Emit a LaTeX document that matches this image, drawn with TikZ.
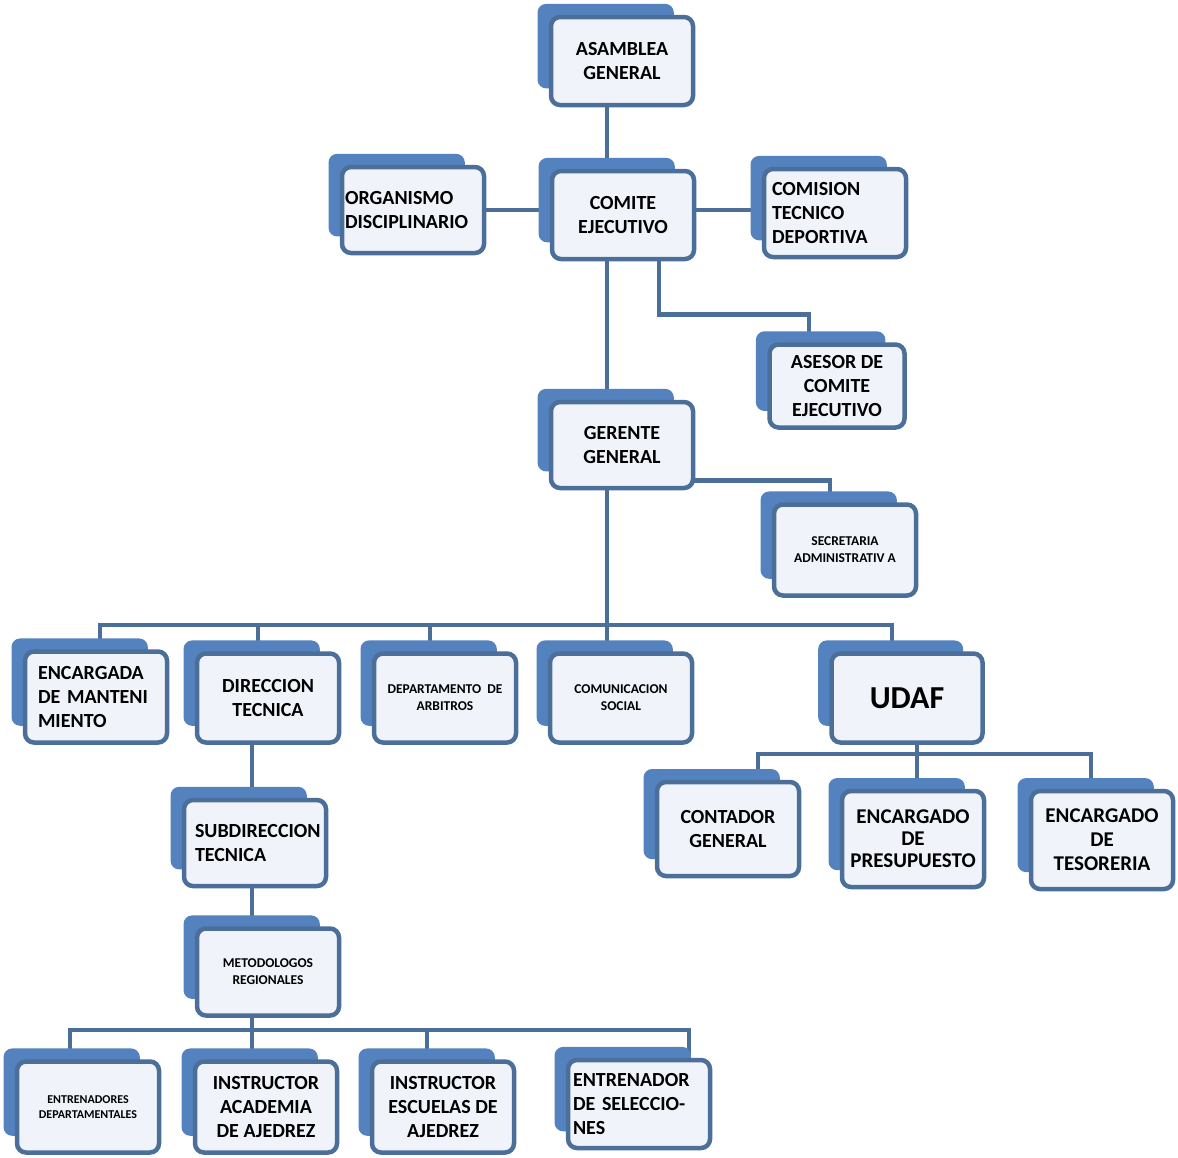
\documentclass[tikz,border=0pt]{standalone}
\usepackage{fontspec}
\setmainfont{Carlito}
\usetikzlibrary{shadows,backgrounds}

\definecolor{backblue}{RGB}{84,130,190}
\definecolor{edgeblue}{RGB}{76,111,154}
\definecolor{paleblue}{RGB}{240,244,250}

\tikzset{
  orgbox/.style={draw=edgeblue, line width=4.5pt, rounded corners=9pt, fill=paleblue,
    minimum width=142, minimum height=88, align=center, inner sep=2pt,
    font=\bfseries\fontsize{20}{24}\selectfont,
    copy shadow={shadow xshift=-17pt, shadow yshift=15.5pt, shadow scale=0.96, fill=backblue, draw=none}},
  smalltext/.style={font=\bfseries\fontsize{13.5}{17}\selectfont},
  tinytext/.style={font=\bfseries\fontsize{12}{15}\selectfont},
  leftbox/.style={align=left, text width=#1, inner xsep=0pt},
  link/.style={draw=edgeblue, line width=4.5pt},
}

\begin{document}
\begin{tikzpicture}[x=1pt,y=-1pt]
\useasboundingbox (0,0) rectangle (1178,1157);

% top levels
\node[orgbox] (asamblea) at (622,61) {ASAMBLEA\\GENERAL};
\node[orgbox, leftbox=136, minimum height=86] (organismo) at (413,210) {ORGANISMO\\DISCIPLINARIO};
\node[orgbox] (comite) at (623,215) {COMITE\\EJECUTIVO};
\node[orgbox, leftbox=126] (comision) at (835,213) {COMISION\\TECNICO\\DEPORTIVA};
\node[orgbox, minimum width=135, minimum height=83] (asesor) at (837,386) {ASESOR DE\\COMITE\\EJECUTIVO};
\node[orgbox, minimum height=86] (gerente) at (622,445) {GERENTE\\GENERAL};
\node[orgbox, smalltext, minimum height=91] (secretaria) at (845,550) {SECRETARIA\\ADMINISTRATIV A};

% departments
\node[orgbox, leftbox=116, minimum height=91] (encargada) at (96,697) {ENCARGADA\\DE MANTENI\\MIENTO};
\node[orgbox, minimum height=89] (direccion) at (268,698) {DIRECCION\\TECNICA};
\node[orgbox, smalltext, minimum height=89] (departamento) at (445,698) {DEPARTAMENTO\ \ DE\\ARBITROS};
\node[orgbox, smalltext, minimum height=89] (comunicacion) at (621,698) {COMUNICACION\\SOCIAL};
\node[orgbox, minimum width=151, minimum height=89, font=\bfseries\fontsize{32}{36}\selectfont] (udaf) at (907,698) {UDAF};

% technical branch
\node[orgbox, leftbox=120, minimum height=86] (subdireccion) at (255,843) {SUBDIRECCION\\TECNICA};
\node[orgbox, smalltext, minimum height=87] (metodologos) at (268,972) {METODOLOGOS\\REGIONALES};
\node[orgbox, tinytext, minimum height=91] (entrenadores) at (88,1107) {ENTRENADORES\\DEPARTAMENTALES};
\node[orgbox, minimum height=91] (academia) at (266,1107) {INSTRUCTOR\\ACADEMIA\\DE AJEDREZ};
\node[orgbox, minimum height=91] (escuelas) at (443,1107) {INSTRUCTOR\\ESCUELAS DE\\AJEDREZ};
\node[orgbox, leftbox=132, minimum height=88] (selecciones) at (639,1104) {ENTRENADOR\\DE SELECCIO-\\NES};

% UDAF branch
\node[orgbox, minimum height=94] (contador) at (728,829) {CONTADOR\\GENERAL};
\node[orgbox, minimum height=96, font=\bfseries\fontsize{21}{22}\selectfont] (presupuesto) at (913,839) {ENCARGADO\\DE\\PRESUPUESTO};
\node[orgbox, minimum height=98, font=\bfseries\fontsize{21}{24}\selectfont] (tesoreria) at (1102,840) {ENCARGADO\\DE\\TESORERIA};

% connectors
\coordinate (busA) at (0,625);
\coordinate (busU) at (0,754);
\coordinate (busM) at (0,1030);
\begin{scope}[on background layer]
\draw[link] ([xshift=-15]asamblea.center) coordinate (spine) -- (spine |- comunicacion.center);
\draw[link] (organismo.center) -- (organismo.center -| comision.center);
\draw[link] ([xshift=36]comite.center) |- ([xshift=-28,yshift=28]asesor.north) -- ([xshift=-28]asesor.center);
\draw[link] ([yshift=10]gerente.south) -| ([xshift=-15]secretaria.center);
\draw[link] ([xshift=4]encargada.center) coordinate (dA) -- (dA |- busA) -| ([xshift=-15]udaf.center);
\draw[link] ([xshift=-10]direccion.center) coordinate (dB) -- (dB |- busA);
\draw[link] ([xshift=-15]departamento.center) coordinate (dC) -- (dC |- busA);
\draw[link] ([xshift=-16]direccion.center) coordinate (dD) -- (dD |- academia.center);
\draw[link] ([xshift=-18]entrenadores.center) coordinate (mA) -- (mA |- busM) -| ([xshift=50]selecciones.center);
\draw[link] ([xshift=-16]escuelas.center) coordinate (mB) -- (mB |- busM);
\draw[link] ([xshift=10]udaf.center) coordinate (uA) -- (uA |- presupuesto.center);
\draw[link] ([xshift=30]contador.center) coordinate (uB) -- (uB |- busU) -| ([xshift=-11]tesoreria.center);
\end{scope}
\end{tikzpicture}
\end{document}
